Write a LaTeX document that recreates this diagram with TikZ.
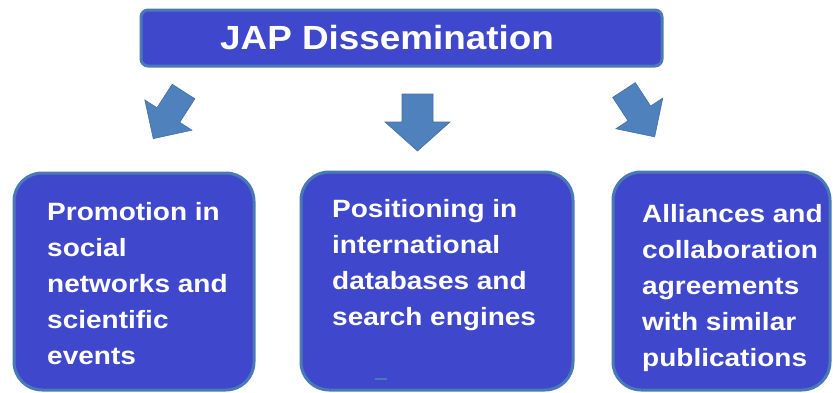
\documentclass[tikz,border=0pt]{standalone}
\usepackage{fontspec}
\setmainfont{Liberation Sans}
\newfontfamily\boxfont[FakeStretch=1.12]{Liberation Sans}
\newfontfamily\titlefont[FakeStretch=1.1]{Liberation Sans}
\definecolor{boxfill}{RGB}{63,72,204}
\definecolor{boxline}{RGB}{74,122,181}
\definecolor{arrowfill}{RGB}{79,129,189}
\definecolor{arrowline}{RGB}{66,112,170}
\tikzset{
  bigbox/.style={draw=boxline, line width=3pt, fill=boxfill, rounded corners=28pt, inner sep=0pt},
  titlebox/.style={draw=boxline, line width=3pt, fill=boxfill, rounded corners=7pt, inner sep=0pt},
  boxtxt/.style={text=white, inner sep=0pt, font=\boxfont\bfseries\fontsize{25pt}{36pt}\selectfont},
  titletxt/.style={text=white, inner sep=0pt, font=\titlefont\bfseries\fontsize{33.5pt}{40pt}\selectfont},
  blockarr/.style={fill=arrowfill, draw=arrowline, line width=0.6pt, line join=miter}
}
\newcommand{\txtlines}[1]{\begin{tabular}[t]{@{}l@{}}#1\end{tabular}}
\begin{document}
\begin{tikzpicture}[x=1pt,y=1pt]
\useasboundingbox (0,0) rectangle (833,-392);
% title
\node[titlebox, minimum width=521pt, minimum height=56pt] (title) at (401.5,-38) {};
\node[titletxt, anchor=base west] (titletext) at (220,-49) {JAP Dissemination};
% arrows
\begin{scope}[shift={(183.5,-91.5)}, rotate=-122.7]
  \path[blockarr] (0,13.5) -- (28,13.5) -- (28,28) -- (56,0) -- (28,-28) -- (28,-13.5) -- (0,-13.5) -- cycle;
\end{scope}
\begin{scope}[shift={(417.5,-94)}, rotate=-90]
  \path[blockarr] (0,15.5) -- (28,15.5) -- (28,32.5) -- (57,0) -- (28,-32.5) -- (28,-15.5) -- (0,-15.5) -- cycle;
\end{scope}
\begin{scope}[shift={(624,-90)}, rotate=-56.8]
  \path[blockarr] (0,13.5) -- (28,13.5) -- (28,28) -- (56,0) -- (28,-28) -- (28,-13.5) -- (0,-13.5) -- cycle;
\end{scope}
% bottom boxes
\node[bigbox, minimum width=240pt, minimum height=217pt] (b1) at (134,-281.5) {};
\node[bigbox, minimum width=272pt, minimum height=218pt] (b2) at (437,-281) {};
\node[bigbox, minimum width=217pt, minimum height=218pt] (b3) at (721.5,-281) {};
\node[boxtxt, anchor=base west] (t1) at (47,-220) {\txtlines{Promotion in\\social\\networks and\\scientific\\events}};
\node[boxtxt, anchor=base west] (t2) at (332,-217) {\txtlines{Positioning in\\international\\databases and\\search engines}};
\node[boxtxt, anchor=base west] (t3) at (642,-222) {\txtlines{Alliances and\\collaboration\\agreements\\with similar\\publications}};
\draw[boxline, line width=1.2pt] (375,-379) -- (387,-379);
\end{tikzpicture}
\end{document}
